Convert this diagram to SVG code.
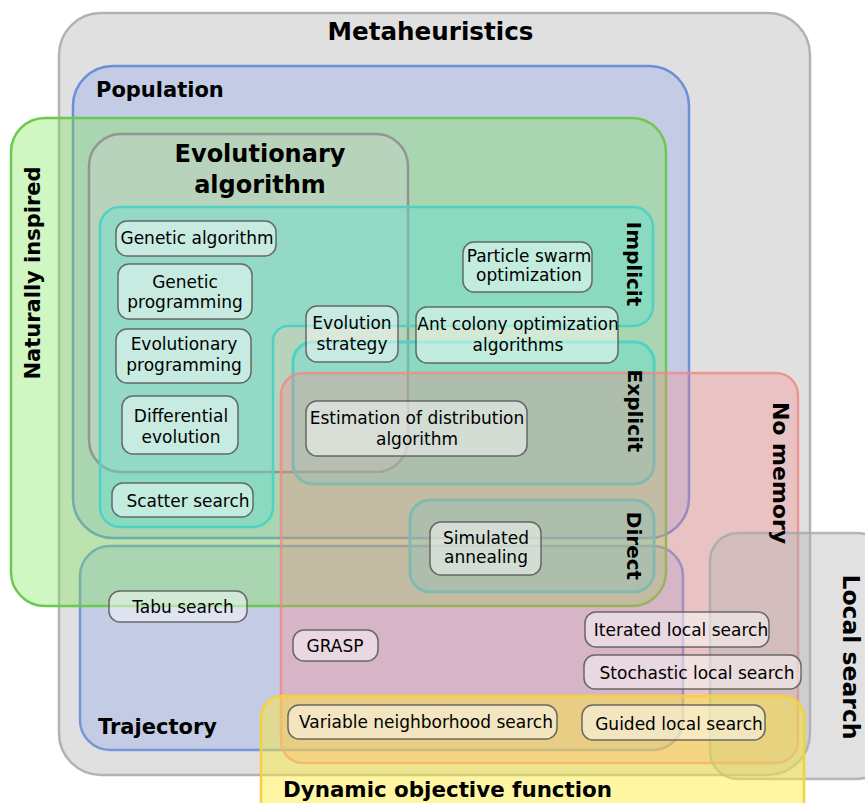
<svg xmlns="http://www.w3.org/2000/svg" width="865" height="803" viewBox="0 0 865 803">
<style>
.reg{stroke-width:2.5}
.lbl{font-family:"DejaVu Sans",Verdana,sans-serif;font-weight:bold;fill:#000}
.nd rect{fill:#ffffff;fill-opacity:0.48;stroke:#555;stroke-opacity:0.85;stroke-width:1.5}
.nd text{font-family:"DejaVu Sans",Verdana,sans-serif;font-size:17px;fill:#000;text-anchor:middle}
</style>
<rect width="865" height="803" fill="#ffffff"/>
<g id="metaheuristics"><rect class="reg" x="59" y="13" width="751" height="762" rx="42" fill="#e0e0e0" stroke="#b2b2b2"/></g>
<g id="population"><rect class="reg" x="73" y="66" width="616" height="472" rx="40" fill="#82a0f0" fill-opacity="0.3" stroke="#6b8fd8"/></g>
<g id="trajectory"><rect class="reg" x="80" y="546" width="603" height="204" rx="30" fill="#82a0f0" fill-opacity="0.3" stroke="#6b8fd8" stroke-opacity="0.9"/></g>
<g id="naturally-inspired"><rect class="reg" x="11" y="118" width="655" height="488" rx="34" fill="#78e650" fill-opacity="0.35" stroke="#6cc94f"/></g>
<g id="evolutionary-algorithm"><rect class="reg" x="89" y="134" width="319" height="338" rx="32" fill="#d0d0d0" fill-opacity="0.4" stroke="#888" stroke-opacity="0.8"/></g>
<g id="implicit"><path class="reg" d="M120,207 H633 A20,20 0 0 1 653,227 V306 A20,20 0 0 1 633,326 H288 A15,15 0 0 0 273,341 V507 A20,20 0 0 1 253,527 H120 A20,20 0 0 1 100,507 V227 A20,20 0 0 1 120,207 Z" fill="#5ae1d7" fill-opacity="0.38" stroke="#4fd2c4" stroke-width="3"/></g>
<g id="explicit"><rect x="293" y="342" width="361" height="142" rx="20" fill="#5ae1d7" fill-opacity="0.38" stroke="#4fd2c4" stroke-width="3"/></g>
<g id="direct"><rect x="410" y="500" width="244" height="92" rx="20" fill="#5ae1d7" fill-opacity="0.38" stroke="#4fd2c4" stroke-width="3"/></g>
<g id="no-memory"><rect class="reg" x="281" y="373" width="517" height="390" rx="22" fill="#ff8282" fill-opacity="0.3" stroke="#f08a8a" stroke-opacity="0.85"/></g>
<g id="local-search"><rect class="reg" x="710" y="533" width="175" height="246" rx="28" fill="#b4b4b4" fill-opacity="0.4" stroke="#a8a8a8" stroke-opacity="0.8"/></g>
<g id="dynamic-objective-function"><rect class="reg" x="261" y="696" width="543" height="135" rx="22" fill="#ffeb32" fill-opacity="0.45" stroke="#f5d23c"/></g>

<g id="region-labels">
<text class="lbl" x="430.5" y="40" font-size="24.6" text-anchor="middle">Metaheuristics</text>
<text class="lbl" x="96" y="97" font-size="21">Population</text>
<text class="lbl" x="260" y="162" font-size="24" text-anchor="middle">Evolutionary</text>
<text class="lbl" x="260" y="193" font-size="24" text-anchor="middle">algorithm</text>
<text class="lbl" x="98" y="734" font-size="21">Trajectory</text>
<text class="lbl" x="283" y="797" font-size="21.4">Dynamic objective function</text>
<text class="lbl" font-size="21" text-anchor="middle" transform="translate(40,273) rotate(-90)">Naturally inspired</text>
<text class="lbl" font-size="20" text-anchor="middle" transform="translate(627,264) rotate(90)">Implicit</text>
<text class="lbl" font-size="20" text-anchor="middle" transform="translate(628,411) rotate(90)">Explicit</text>
<text class="lbl" font-size="20" text-anchor="middle" transform="translate(627,546) rotate(90)">Direct</text>
<text class="lbl" font-size="22" text-anchor="middle" transform="translate(773,473) rotate(90)">No memory</text>
<text class="lbl" font-size="23.5" text-anchor="middle" transform="translate(843,657) rotate(90)">Local search</text>
</g>

<g id="connectors"/>

<g id="genetic-algorithm" class="nd"><rect x="116" y="221" width="160" height="35" rx="11"/><text x="197" y="244">Genetic algorithm</text></g>
<g id="genetic-programming" class="nd"><rect x="118" y="264" width="134" height="55" rx="11"/><text x="185" y="288">Genetic</text><text x="185" y="308">programming</text></g>
<g id="evolutionary-programming" class="nd"><rect x="116" y="329" width="135" height="54" rx="11"/><text x="184" y="350">Evolutionary</text><text x="184" y="371">programming</text></g>
<g id="differential-evolution" class="nd"><rect x="122" y="396" width="116" height="58" rx="11"/><text x="181" y="422">Differential</text><text x="181" y="443">evolution</text></g>
<g id="scatter-search" class="nd"><rect x="112" y="483" width="141" height="34" rx="11"/><text x="188" y="507">Scatter search</text></g>
<g id="evolution-strategy" class="nd"><rect x="306" y="306" width="92" height="56" rx="11"/><text x="352" y="329">Evolution</text><text x="352" y="350">strategy</text></g>
<g id="particle-swarm-optimization" class="nd"><rect x="463" y="242" width="129" height="50" rx="11"/><text x="529" y="262">Particle swarm</text><text x="529" y="281">optimization</text></g>
<g id="ant-colony-optimization" class="nd"><rect x="416" y="307" width="202" height="56" rx="11"/><text x="518" y="330">Ant colony optimization</text><text x="518" y="351">algorithms</text></g>
<g id="estimation-of-distribution" class="nd"><rect x="306" y="401" width="221" height="55" rx="11"/><text x="417" y="424">Estimation of distribution</text><text x="417" y="445">algorithm</text></g>
<g id="simulated-annealing" class="nd"><rect x="430" y="522" width="111" height="53" rx="11"/><text x="486" y="544">Simulated</text><text x="486" y="563">annealing</text></g>
<g id="tabu-search" class="nd"><rect x="109" y="591" width="138" height="31" rx="11"/><text x="183" y="613">Tabu search</text></g>
<g id="grasp" class="nd"><rect x="293" y="630" width="85" height="31" rx="11"/><text x="335" y="652">GRASP</text></g>
<g id="iterated-local-search" class="nd"><rect x="585" y="612" width="184" height="35" rx="11"/><text x="681" y="636">Iterated local search</text></g>
<g id="stochastic-local-search" class="nd"><rect x="584" y="655" width="217" height="34" rx="11"/><text x="697" y="679">Stochastic local search</text></g>
<g id="variable-neighborhood-search" class="nd"><rect x="288" y="705" width="269" height="34" rx="11"/><text x="426" y="728">Variable neighborhood search</text></g>
<g id="guided-local-search" class="nd"><rect x="582" y="705" width="183" height="35" rx="11"/><text x="679" y="730">Guided local search</text></g>
</svg>
